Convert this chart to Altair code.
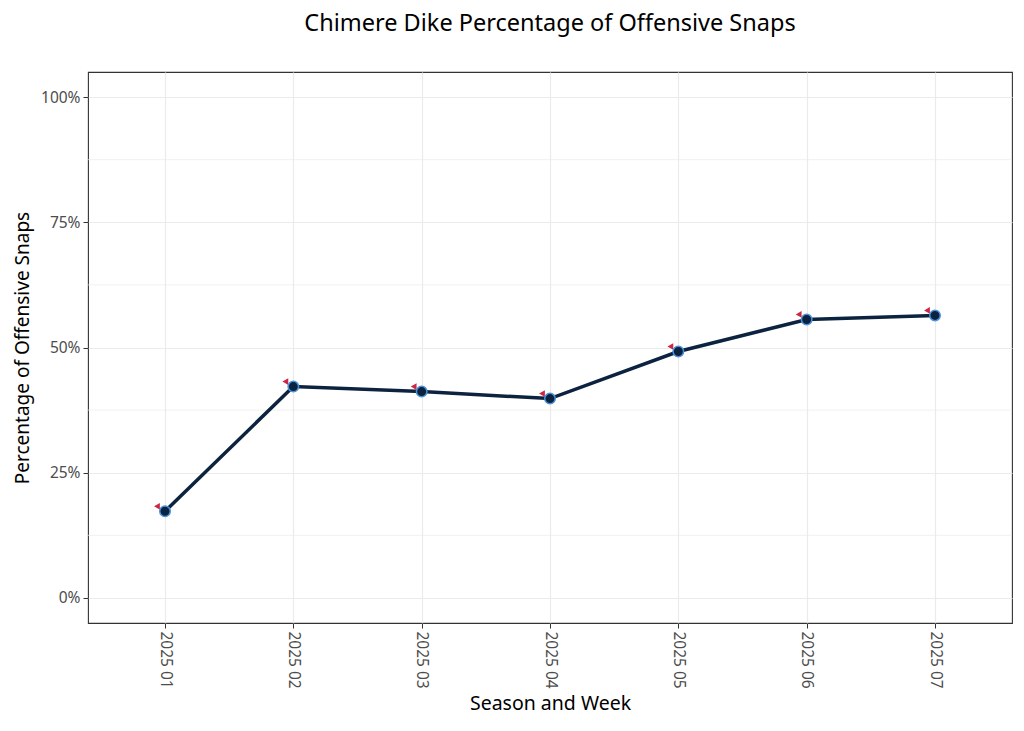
import altair as alt
import pandas as pd

weeks = ["2025 01", "2025 02", "2025 03", "2025 04", "2025 05", "2025 06", "2025 07"]
pct = [0.173, 0.422, 0.412, 0.398, 0.492, 0.556, 0.564]
major_ticks = [0, 0.25, 0.5, 0.75, 1.0]
minor_ticks = [0.125, 0.375, 0.625, 0.875]

df = pd.DataFrame({"week": weeks, "pct": pct})
minor_df = pd.DataFrame({"v": minor_ticks})

FONT = "Noto Sans"
NAVY = "#0c2340"

x_scale = alt.Scale(domain=weeks, padding=0.6)
x_axis = alt.Axis(labelAngle=90, labelAlign="left", labelBaseline="middle",
                  labelFontSize=15.5, labelColor="#4d4d4d", labelFont=FONT,
                  titleFontSize=19.5, titleFont=FONT, titleFontWeight="normal",
                  titleColor="#000000", titlePadding=6,
                  tickColor="#333333", tickSize=5, domain=False, grid=True,
                  gridColor="#ebebeb", gridWidth=1.2, labelPadding=3)
y_scale = alt.Scale(domain=[-0.05, 1.05], nice=False, zero=False)
y_axis = alt.Axis(values=major_ticks, format=".0%",
                  labelFontSize=15.5, labelColor="#4d4d4d", labelFont=FONT,
                  titleFontSize=19, titleFont=FONT, titleFontWeight="normal",
                  titleColor="#000000", titlePadding=8,
                  tickColor="#333333", tickSize=5, domain=False, grid=True,
                  gridColor="#ebebeb", gridWidth=1.2, labelPadding=3)

x_enc = alt.X("week:N", sort=weeks, title="Season and Week", scale=x_scale, axis=x_axis)
y_enc = alt.Y("pct:Q", scale=y_scale, title="Percentage of Offensive Snaps", axis=y_axis)

minor = alt.Chart(minor_df).mark_rule(color="#ebebeb", strokeWidth=0.7).encode(
    y=alt.Y("v:Q", scale=y_scale, title="Percentage of Offensive Snaps", axis=y_axis)
)

line = alt.Chart(df).mark_line(color=NAVY, strokeWidth=3.5).encode(x=x_enc, y=y_enc)
pts = alt.Chart(df).mark_point(filled=True, shape="circle", size=110, color=NAVY,
                               stroke="#4b92db", strokeWidth=1.5, opacity=1).encode(
    x=x_enc, y=y_enc)
accent = alt.Chart(df).mark_point(shape="triangle-left", filled=True, size=45,
                                  color="#c8102e", opacity=0.9, xOffset=-8, yOffset=-5).encode(
    x=x_enc, y=y_enc)

chart = alt.layer(minor, line, accent, pts).properties(
    width=924, height=551,
    title=alt.TitleParams("Chimere Dike Percentage of Offensive Snaps", font=FONT,
                          fontSize=23.5, fontWeight="normal", color="#000000",
                          anchor="middle", offset=37),
    autosize=alt.AutoSizeParams(type="none"),
    padding={"left": 80, "top": 64, "right": 4, "bottom": 100},
).configure(background="white").configure_view(stroke="#333333", strokeWidth=1.1)

chart.save("out.html", embed_options={"renderer": "svg", "actions": False})
